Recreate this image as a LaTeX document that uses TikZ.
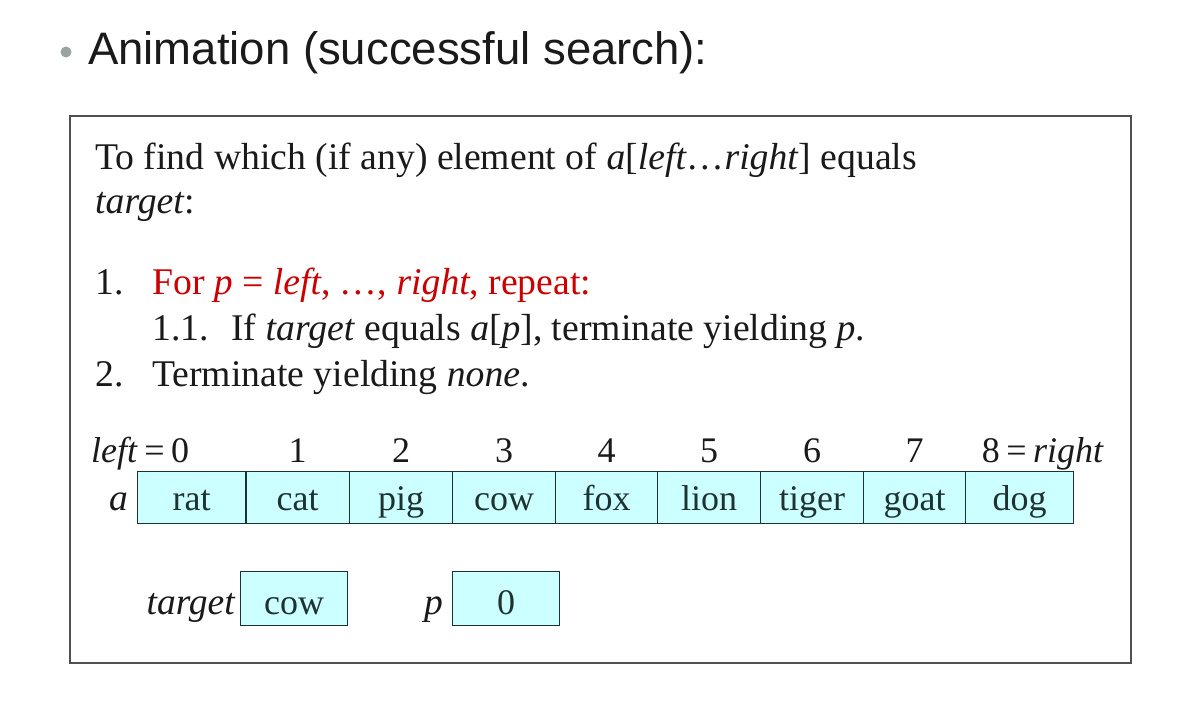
\documentclass[tikz,border=0pt]{standalone}
\usepackage{fontspec}
\setmainfont{Liberation Serif}
\newfontfamily\titlefont{Liberation Sans}
\definecolor{cellfill}{RGB}{204,255,255}
\definecolor{celldraw}{RGB}{30,50,50}
\definecolor{redtxt}{RGB}{204,0,0}
\definecolor{txt}{RGB}{26,26,26}
\definecolor{framec}{RGB}{80,80,80}
\definecolor{bulletc}{RGB}{154,163,158}
\newcommand{\bodyfont}{\fontsize{37.7}{45}\selectfont}
\newcommand{\cellfont}{\fontsize{36}{42}\selectfont}
\newcommand{\eqsp}{\hspace{0.18em}=\hspace{0.18em}}
\begin{document}
\begin{tikzpicture}[x=1pt,y=-1pt,
  txtline/.style={anchor=base west, inner sep=0, text=txt, font=\bodyfont},
  idx/.style={anchor=base, inner sep=0, text=txt, font=\cellfont},
  cell/.style={draw=celldraw, fill=cellfill, line width=1.1pt, inner sep=0, anchor=north west,
    minimum height=52pt, text height=26pt, text depth=0pt, text=celldraw, font=\cellfont},
  varbox/.style={cell, minimum height=54pt, text height=32pt, minimum width=107pt},
  varlabel/.style={anchor=base east, inner sep=0, text=txt, font=\fontsize{37.5}{42}\selectfont\itshape}]
\useasboundingbox (0,0) rectangle (1188,714);
\fill[white] (0,0) rectangle (1188,714);
% title
\node[circle, fill=bulletc, inner sep=0, minimum size=11pt] (bullet) at (66,52) {};
\node[anchor=base west, inner sep=0, text=txt, font=\titlefont\fontsize{45.5}{50}\selectfont] (title) at (88,65) {Animation (successful search):};
% frame
\node[draw=framec, line width=1.8pt, inner sep=0, anchor=north west, minimum width=1061pt, minimum height=547pt] (frame) at (69,115) {};
% algorithm text
\node[txtline] (l1) at (95,170) {To find which (if any) element of \textit{a}[\textit{left}\dots\textit{right}] equals};
\node[txtline] (l2) at (95,214) {\textit{target}:};
\node[txtline] (n1) at (95,294) {1.};
\node[txtline, text=redtxt] (s1) at (152,294) {For \textit{p} = \textit{left}, \dots, \textit{right}, repeat:};
\node[txtline] (n11) at (152,340) {1.1.};
\node[txtline] (s11) at (231,340) {If \textit{target} equals \textit{a}[\textit{p}], terminate yielding \textit{p}.};
\node[txtline] (n2) at (95,386) {2.};
\node[txtline] (s2) at (152,386) {Terminate yielding \textit{none}.};
% array
\node[varlabel] (alabel) at (128,510) {a};
\node[cell, minimum width=108pt] (c0) at (137,471) {rat};
\node[cell, minimum width=104pt] (c1) at (245,471) {cat};
\node[cell, minimum width=103pt] (c2) at (349,471) {pig};
\node[cell, minimum width=103pt] (c3) at (452,471) {cow};
\node[cell, minimum width=102pt] (c4) at (555,471) {fox};
\node[cell, minimum width=103pt] (c5) at (657,471) {lion};
\node[cell, minimum width=103pt] (c6) at (760,471) {tiger};
\node[cell, minimum width=102pt] (c7) at (863,471) {goat};
\node[cell, minimum width=108pt] (c8) at (965,471) {dog};
\draw[celldraw, line width=2.2pt] (c0.north east) -- (c0.south east);
% indices
\node[anchor=base west, inner sep=0, text=txt, font=\cellfont] (i0) at (91,462) {\textit{left}\eqsp0};
\node[idx] (i1) at (c1.center |- 0,462) {1};
\node[idx] (i2) at (c2.center |- 0,462) {2};
\node[idx] (i3) at (c3.center |- 0,462) {3};
\node[idx] (i4) at (c4.center |- 0,462) {4};
\node[idx] (i5) at (c5.center |- 0,462) {5};
\node[idx] (i6) at (c6.center |- 0,462) {6};
\node[idx] (i7) at (c7.center |- 0,462) {7};
\node[anchor=base east, inner sep=0, text=txt, font=\cellfont] (i8) at (1104,462) {8\eqsp\textit{right}};
% variables
\node[varlabel] (tlabel) at (235,614) {target};
\node[varbox] (tbox) at (240,571) {cow};
\node[varlabel] (plabel) at (443,614) {p};
\node[varbox] (pbox) at (452,571) {0};
\end{tikzpicture}
\end{document}
